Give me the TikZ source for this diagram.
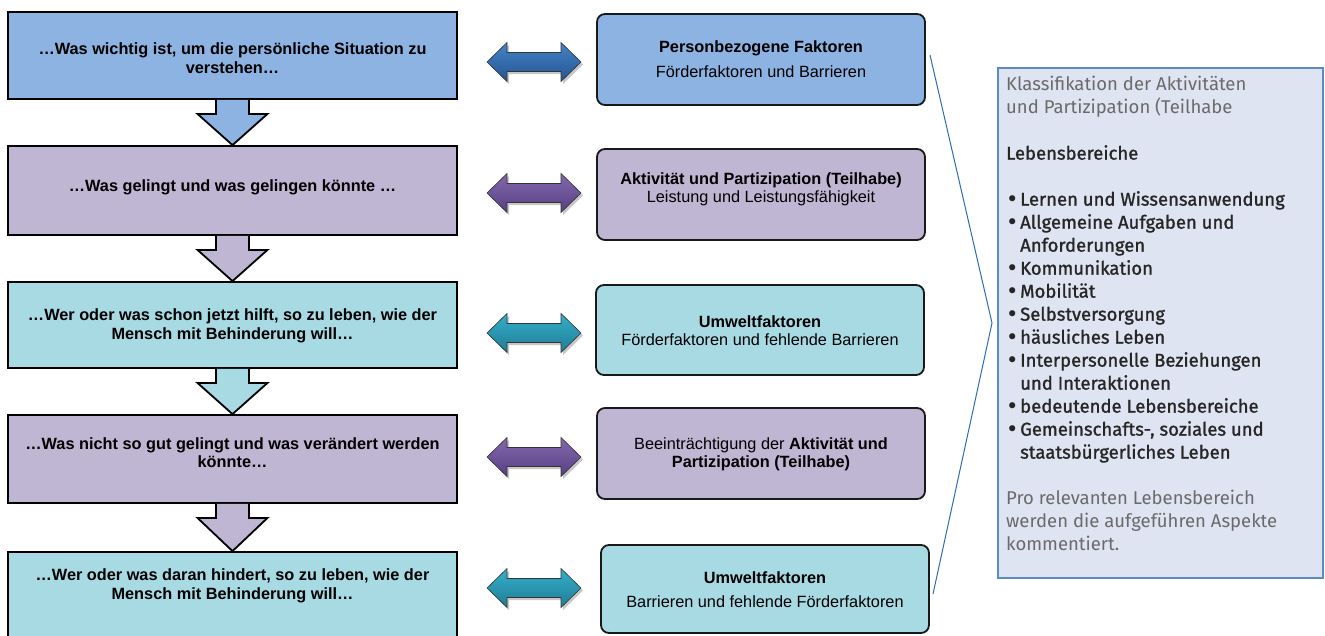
\documentclass[tikz,border=0pt]{standalone}
\usepackage{fontspec}
\setmainfont{Liberation Sans}
\newfontfamily\infofont{Fira Sans}
\newfontfamily\infomed[FakeBold=1.2]{Fira Sans}
\newfontfamily\bulletfont{DejaVu Sans}
\usetikzlibrary{calc}
\definecolor{bluebox}{HTML}{8DB3E2}
\definecolor{purplebox}{HTML}{BFB6D3}
\definecolor{tealbox}{HTML}{A8DAE4}
\definecolor{bluetop}{HTML}{4383C9}
\definecolor{bluebot}{HTML}{25558F}
\definecolor{purptop}{HTML}{8468AE}
\definecolor{purpbot}{HTML}{573F82}
\definecolor{tealtop}{HTML}{34AFCB}
\definecolor{tealbot}{HTML}{217C95}
\definecolor{infofill}{HTML}{DFE4F2}
\definecolor{infoborder}{HTML}{5A8BC6}
\definecolor{bracketcol}{HTML}{2E6DB4}
\definecolor{greytext}{HTML}{6A6A6A}
\definecolor{darktext}{HTML}{262626}
\newcommand\greyline[1]{\textcolor{greytext}{#1}}
\newcommand\darkline[1]{\textcolor{darktext}{\infomed #1}}
\newcommand\bulletline[1]{\textcolor{darktext}{\makebox[14pt][l]{\raisebox{-0.8pt}{\bulletfont\fontsize{21}{23}\selectfont •}}\infomed #1}}
\newcommand\contline[1]{\textcolor{darktext}{\hspace*{14pt}\infomed #1}}
\tikzset{
  lbox/.style={draw=black, line width=1.8pt, rectangle, minimum width=449pt, inner sep=0pt},
  rbox/.style={draw=black!90, line width=1.8pt, rectangle, rounded corners=8pt, minimum width=328pt, inner sep=0pt},
  ltext/.style={align=center, font=\fontsize{16.3}{18.5}\selectfont\bfseries, inner sep=0pt},
  rtext/.style={align=center, font=\fontsize{16.3}{18}\selectfont, inner sep=0pt},
  darr/.style={draw=black, line width=1.8pt, line join=miter},
  dbl/.style={draw=black!80, line width=0.6pt},
  dblshadow/.style={fill=black, opacity=0.22},
  pics/dblarrow/.style={code={
    \fill[dblshadow] (-45,2.5) -- (-25,-17) -- (-25,-7) -- (29,-7) -- (29,-17) -- (49,2.5) -- (29,22) -- (29,12) -- (-25,12) -- (-25,22) -- cycle;
    \path[pic actions] (-47,0) -- (-27,-19.5) -- (-27,-9.5) -- (27,-9.5) -- (27,-19.5) -- (47,0) -- (27,19.5) -- (27,9.5) -- (-27,9.5) -- (-27,19.5) -- cycle;
  }},
}
\newcommand\downarr[3]{%
  \draw[darr, fill=#3] ($(#1.south)+(-16.5,0)$) -- ($(#1.south)+(-16.5,14)$) -- ($(#1.south)+(-35,14)$) -- (#2.north) -- ($(#1.south)+(35,14)$) -- ($(#1.south)+(16.5,14)$) -- ($(#1.south)+(16.5,0)$);}
\begin{document}
\begin{tikzpicture}[x=1pt,y=-1pt]
\useasboundingbox (0,0) rectangle (1325,635);
\clip (0,0) rectangle (1325,635);
\fill[white] (0,0) rectangle (1325,635);

% left column boxes
\node[lbox, fill=bluebox,   minimum height=87pt] (L1) at (232.5,55.5) {};
\node[lbox, fill=purplebox, minimum height=89pt] (L2) at (232.5,190.5) {};
\node[lbox, fill=tealbox,   minimum height=86pt] (L3) at (232.5,325) {};
\node[lbox, fill=purplebox, minimum height=88pt] (L4) at (232.5,459) {};
\node[lbox, fill=tealbox,   minimum height=88pt] (L5) at (232.5,596) {};

% down arrows
\downarr{L1}{L2}{bluebox}
\downarr{L2}{L3}{purplebox}
\downarr{L3}{L4}{tealbox}
\downarr{L4}{L5}{purplebox}

% left texts
\node[ltext] (L1t) at (232.5,58) {…Was wichtig ist, um die persönliche Situation zu\\verstehen…};
\node[ltext] (L2t) at (232.5,187) {…Was gelingt und was gelingen könnte …};
\node[ltext] (L3t) at (232.5,326) {…Wer oder was schon jetzt hilft, so zu leben, wie der\\Mensch mit Behinderung will…};
\node[ltext] (L4t) at (232.5,452.5) {…Was nicht so gut gelingt und was verändert werden\\könnte…};
\node[ltext] (L5t) at (232.5,586) {…Wer oder was daran hindert, so zu leben, wie der\\Mensch mit Behinderung will…};

% right boxes
\node[rbox, fill=bluebox,   minimum height=91pt] (R1) at (761,59.5) {};
\node[rbox, fill=purplebox, minimum height=91pt] (R2) at (761,194.5) {};
\node[rbox, fill=tealbox,   minimum height=90pt] (R3) at (760,330) {};
\node[rbox, fill=purplebox, minimum height=91pt] (R4) at (761,453.5) {};
\node[rbox, fill=tealbox,   minimum height=88pt] (R5) at (765,589) {};

\node[rtext] (R1t) at (761,59.5) {\textbf{Personbezogene Faktoren}\\[7pt]Förderfaktoren und Barrieren};
\node[rtext] (R2t) at (761,189) {\textbf{Aktivität und Partizipation (Teilhabe)}\\Leistung und Leistungsfähigkeit};
\node[rtext] (R3t) at (760,331) {\textbf{Umweltfaktoren}\\Förderfaktoren und fehlende Barrieren};
\node[rtext] (R4t) at (761,454) {Beeinträchtigung der \textbf{Aktivität und}\\\textbf{Partizipation (Teilhabe)}};
\node[rtext] (R5t) at (765,590) {\textbf{Umweltfaktoren}\\[6pt]Barrieren und fehlende Förderfaktoren};

% double arrows
\pic[dbl, top color=bluetop, bottom color=bluebot] (D1) at (534,62) {dblarrow};
\pic[dbl, top color=purptop, bottom color=purpbot] (D2) at (534,193) {dblarrow};
\pic[dbl, top color=tealtop, bottom color=tealbot] (D3) at (534,333) {dblarrow};
\pic[dbl, top color=purptop, bottom color=purpbot] (D4) at (534,457) {dblarrow};
\pic[dbl, top color=tealtop, bottom color=tealbot] (D5) at (534,588) {dblarrow};

% bracket
\coordinate (B1) at (930,55);
\coordinate (B2) at (992,323);
\coordinate (B3) at (933,594);
\draw[bracketcol, line width=1pt] (B1) -- (B2) -- (B3);

% info box
\node[draw=infoborder, fill=infofill, line width=1.2pt, minimum width=325pt, minimum height=510pt, inner sep=0pt] (info) at (1160.5,323) {};
\node[anchor=north west, align=left, inner sep=0pt, font=\infofont\fontsize{18.5}{23}\selectfont] (infotext) at (1006,76) {%
\greyline{Klassifikation der Aktivitäten}\\
\greyline{und Partizipation (Teilhabe}\\
\mbox{}\\
\darkline{Lebensbereiche}\\
\mbox{}\\
\bulletline{Lernen und Wissensanwendung}\\
\bulletline{Allgemeine Aufgaben und}\\
\contline{Anforderungen}\\
\bulletline{Kommunikation}\\
\bulletline{Mobilität}\\
\bulletline{Selbstversorgung}\\
\bulletline{häusliches Leben}\\
\bulletline{Interpersonelle Beziehungen}\\
\contline{und Interaktionen}\\
\bulletline{bedeutende Lebensbereiche}\\
\bulletline{Gemeinschafts-, soziales und}\\
\contline{staatsbürgerliches Leben}\\
\mbox{}\\
\greyline{Pro relevanten Lebensbereich}\\
\greyline{werden die aufgeführen Aspekte}\\
\greyline{kommentiert.}};
\end{tikzpicture}
\end{document}
